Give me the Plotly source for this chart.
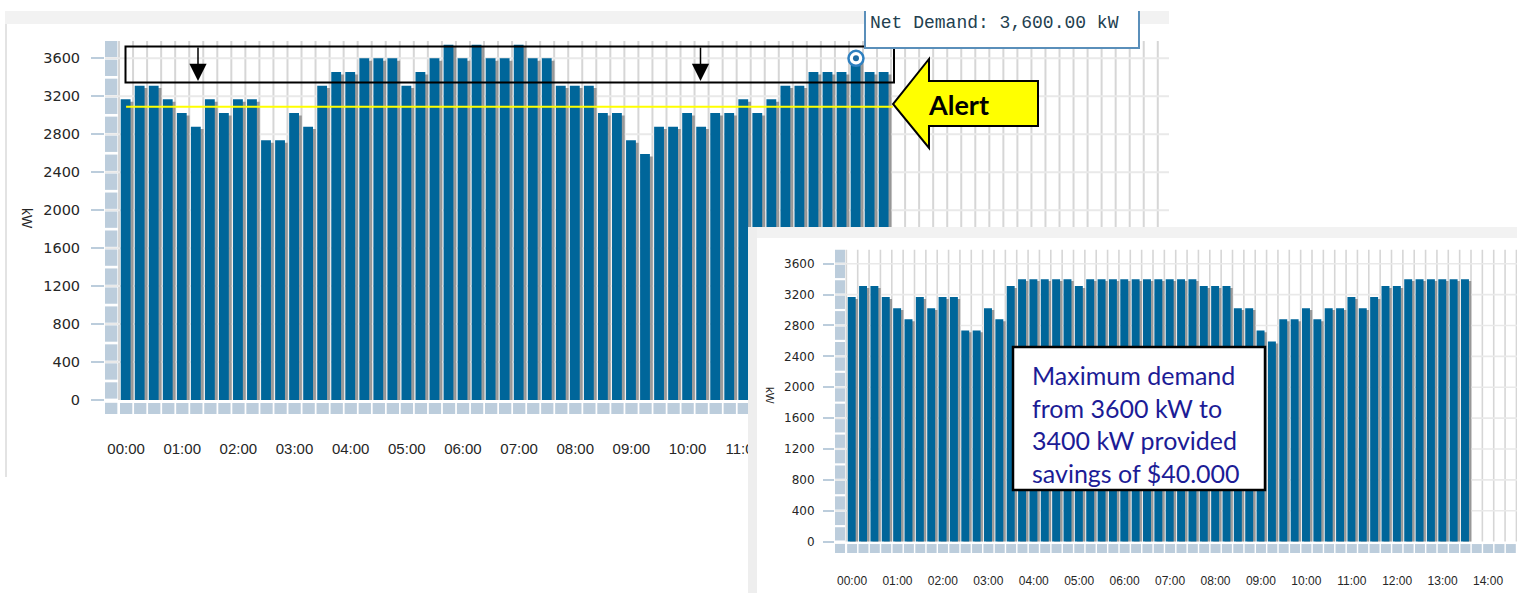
import plotly.graph_objects as go

W, H = 1517, 593

# ---------------- data ----------------
hour_labels = [f"{h:02d}:00" for h in range(0, 15)]
hour_slots = [4 * h for h in range(0, 15)]          # 15-minute slots per hour label
top_visible_hours = 12                               # 00:00 .. 11:00 visible in first screenshot
demand_kw = [3168, 3312, 3312, 3168, 3024, 2880, 3168, 3024, 3168, 3168,
             2736, 2736, 3024, 2880, 3312, 3456, 3456, 3600, 3600, 3600,
             3312, 3456, 3600, 3744, 3600, 3744, 3600, 3600, 3744, 3600,
             3600, 3312, 3312, 3312, 3024, 3024, 2736, 2592, 2880, 2880,
             3024, 2880, 3024, 3024, 3168, 3024, 3168, 3312, 3312, 3456,
             3456, 3456, 3600, 3456, 3456]
managed_kw = [3168, 3312, 3312, 3168, 3024, 2880, 3168, 3024, 3168, 3168,
              2736, 2736, 3024, 2880, 3312, 3400, 3400, 3400, 3400, 3400,
              3312, 3400, 3400, 3400, 3400, 3400, 3400, 3400, 3400, 3400,
              3400, 3312, 3312, 3312, 3024, 3024, 2736, 2592, 2880, 2880,
              3024, 2880, 3024, 3024, 3168, 3024, 3168, 3312, 3312, 3400,
              3400, 3400, 3400, 3400, 3400]
alert_kw = 3090
hover_slot = 52
y_ticks = [0, 400, 800, 1200, 1600, 2000, 2400, 2800, 3200, 3600]
slots = list(range(len(demand_kw)))

# ---------------- style ----------------
BAR = "#00669a"
SHADOW = "#8c8c8c"
FLOOR = "#bccddc"
VGRID = "#d6d6d6"
HGRID = "#e9e9e9"
TXT = "#262626"
Y_LO, Y_HI = -148, 3783


def px(x):
    return x / W


def py(y):
    return 1 - y / H


fig = go.Figure()


def add_chart(xa, ya, values, n_floor):
    fig.add_trace(go.Bar(x=list(range(n_floor)), y=[116] * n_floor, base=-148,
                         width=0.875, offset=-0.43, marker_color=FLOOR,
                         marker_line_width=0, xaxis=xa, yaxis=ya, hoverinfo="skip"))
    fig.add_trace(go.Bar(x=slots, y=[v - 25 for v in values], width=0.72, offset=-0.2,
                         marker_color=SHADOW, marker_line_width=0, opacity=0.85,
                         xaxis=xa, yaxis=ya, hoverinfo="skip"))
    fig.add_trace(go.Bar(x=slots, y=values, width=0.7, offset=-0.38,
                         marker_color=BAR, marker_line_width=0,
                         xaxis=xa, yaxis=ya, name="Net Demand"))


def chart_shapes(xr, yr, x_hi, lw):
    shp = []
    k = -0.5
    while k < x_hi:
        shp.append(dict(type="line", xref=xr, yref=yr, x0=k, x1=k, y0=0, y1=Y_HI,
                        line=dict(color=VGRID, width=lw), layer="below"))
        k += 1
    for t in y_ticks[1:]:
        shp.append(dict(type="line", xref=xr, yref=yr, x0=-1.5, x1=x_hi, y0=t, y1=t,
                        line=dict(color=HGRID, width=lw), layer="below"))
    segs = [(-148, -30)] + [(j * 200 + 14, (j + 1) * 200 - 14) for j in range(18)] + [(3614, Y_HI)]
    for a, b in segs:
        shp.append(dict(type="rect", xref=xr, yref=yr, x0=-1.5, x1=-0.62, y0=a, y1=b,
                        fillcolor=FLOOR, line_width=0, layer="below"))
    return shp


# top chart
add_chart("x", "y", demand_kw, 75)
fig.add_trace(go.Scatter(x=[hover_slot], y=[demand_kw[hover_slot]], mode="markers",
                         marker=dict(symbol="circle", size=15, color="white",
                                     line=dict(color="#2f80c0", width=2.5)),
                         xaxis="x", yaxis="y", hoverinfo="skip"))
fig.add_trace(go.Scatter(x=[hover_slot], y=[demand_kw[hover_slot]], mode="markers",
                         marker=dict(symbol="circle", size=6, color="#1d6aa3"),
                         xaxis="x", yaxis="y", hoverinfo="skip"))
# cover panel (second screenshot background)
fig.add_trace(go.Scatter(x=[0], y=[0], mode="markers", marker_opacity=0,
                         xaxis="x2", yaxis="y2", hoverinfo="skip"))
# bottom chart
add_chart("x3", "y3", managed_kw, 60)

shapes = []
shapes.append(dict(type="rect", xref="paper", yref="paper", x0=px(5), x1=px(1169),
                   y0=py(24), y1=py(11), fillcolor="#f2f2f2", line_width=0, layer="below"))
shapes.append(dict(type="line", xref="paper", yref="paper", x0=px(6), x1=px(6),
                   y0=py(477), y1=py(24), line=dict(color="#e3e3e3", width=2), layer="below"))
shapes += chart_shapes("x", "y", 74.3, 2)
shapes.append(dict(type="rect", xref="x2", yref="y2", x0=748, x1=1517, y0=227, y1=238,
                   fillcolor="#f2f2f2", line_width=0, layer="below"))
shapes.append(dict(type="rect", xref="x2", yref="y2", x0=748, x1=757, y0=227, y1=593,
                   fillcolor="#eeeeee", line_width=0, layer="below"))
shapes += chart_shapes("x3", "y3", 58.6, 1.6)

shapes.append(dict(type="line", xref="x", yref="y", x0=0, x1=54.63, y0=alert_kw, y1=alert_kw,
                   line=dict(color="#ffff00", width=2), layer="above"))
shapes.append(dict(type="rect", xref="paper", yref="paper", x0=px(125.5), x1=px(894),
                   y0=py(82.5), y1=py(46.5), line=dict(color="black", width=2), layer="above"))
pts = [(893, 104), (929, 59), (929, 81), (1038, 81), (1038, 126), (929, 126), (929, 148)]
path = "M " + " L ".join(f"{px(a):.5f},{py(b):.5f}" for a, b in pts) + " Z"
shapes.append(dict(type="path", xref="paper", yref="paper", path=path, fillcolor="#ffff00",
                   line=dict(color="black", width=2), layer="above"))
shapes.append(dict(type="rect", xref="paper", yref="paper", x0=px(865), x1=px(1139),
                   y0=py(48), y1=py(11), fillcolor="white", line_width=0, layer="above"))
tip = f"M {px(865):.5f},{py(11):.5f} L {px(865):.5f},{py(48):.5f} L {px(1139):.5f},{py(48):.5f} L {px(1139):.5f},{py(11):.5f}"
shapes.append(dict(type="path", xref="paper", yref="paper", path=tip,
                   line=dict(color="#5a8fba", width=2), layer="above"))
shapes.append(dict(type="rect", xref="paper", yref="paper", x0=px(1013), x1=px(1265),
                   y0=py(490), y1=py(347), fillcolor="white",
                   line=dict(color="black", width=2.5), layer="above"))

annotations = [
    dict(text="kW", x=px(27), y=py(218), xref="paper", yref="paper", showarrow=False,
         xanchor="center", yanchor="middle", textangle=90,
         font=dict(family="Liberation Sans", size=14, color=TXT)),
    dict(text="kW", x=px(770), y=py(395), xref="paper", yref="paper", showarrow=False,
         xanchor="center", yanchor="middle", textangle=90,
         font=dict(family="Liberation Sans", size=11.5, color=TXT)),
    dict(text="<b>Alert</b>", x=px(958), y=py(104), xref="paper", yref="paper",
         xanchor="center", yanchor="middle",
         showarrow=False, font=dict(family="Lato", size=27, color="black")),
    dict(text="Net Demand: 3,600.00 kW", x=px(868), y=py(23), xref="paper", yref="paper",
         xanchor="left", yanchor="middle", showarrow=False,
         font=dict(family="Liberation Mono", size=18, color="#23404f")),
    dict(text="Maximum demand<br>from 3600 kW to<br>3400 kW provided<br>savings of $40.000",
         x=px(1031), y=py(359), xref="paper", yref="paper", xanchor="left", yanchor="top",
         align="left", valign="top", width=228, height=129, borderpad=0, showarrow=False,
         font=dict(family="Lato", size=25, color="#1c1c96")),
]
for ax_x in (198, 700.5):
    annotations.append(dict(text="", x=px(ax_x), y=py(81), xref="paper", yref="paper",
                            showarrow=True, ax=0, ay=-35, arrowhead=2, arrowsize=2.3,
                            arrowwidth=1.5, arrowcolor="black"))

axis_common = dict(showgrid=False, zeroline=False, showline=False, fixedrange=True)
fig.update_layout(
    template="none",
    width=W, height=H,
    margin=dict(l=0, r=0, t=0, b=0),
    paper_bgcolor="white", plot_bgcolor="white",
    showlegend=False, barmode="overlay",
    shapes=shapes, annotations=annotations,
    xaxis=dict(domain=[px(105), px(1169)], range=[-1.5, 74.3], anchor="y",
               tickvals=hour_slots[:top_visible_hours],
               ticktext=hour_labels[:top_visible_hours], ticks="",
               ticklabelstandoff=24,
               tickfont=dict(family="Liberation Sans", size=15, color=TXT), **axis_common),
    yaxis=dict(domain=[py(414), py(41)], range=[Y_LO, Y_HI], anchor="x",
               tickvals=y_ticks, ticks="outside", ticklen=13, tickwidth=2, tickcolor=FLOOR,
               ticklabelstandoff=8,
               tickfont=dict(family="DejaVu Sans", size=14.5, color=TXT), **axis_common),
    xaxis2=dict(domain=[px(748), 1], range=[748, 1517], anchor="y2", visible=False,
                **axis_common),
    yaxis2=dict(domain=[0, py(227)], range=[593, 227], anchor="x2", visible=False,
                **axis_common),
    xaxis3=dict(domain=[px(835), 1], range=[-1.5, 58.55], anchor="y3",
                tickvals=hour_slots, ticktext=hour_labels, ticks="",
                ticklabelstandoff=19,
                tickfont=dict(family="Liberation Sans", size=12, color=TXT), **axis_common),
    yaxis3=dict(domain=[py(553), py(249.6)], range=[Y_LO, Y_HI], anchor="x3",
                tickvals=y_ticks, ticks="outside", ticklen=11, tickwidth=2, tickcolor=FLOOR,
                ticklabelstandoff=6,
                tickfont=dict(family="DejaVu Sans", size=12, color=TXT), **axis_common),
)

fig.write_html("out.html", config={"displayModeBar": False},
               post_script="document.body.style.margin='0px';document.body.style.overflow='hidden';")
